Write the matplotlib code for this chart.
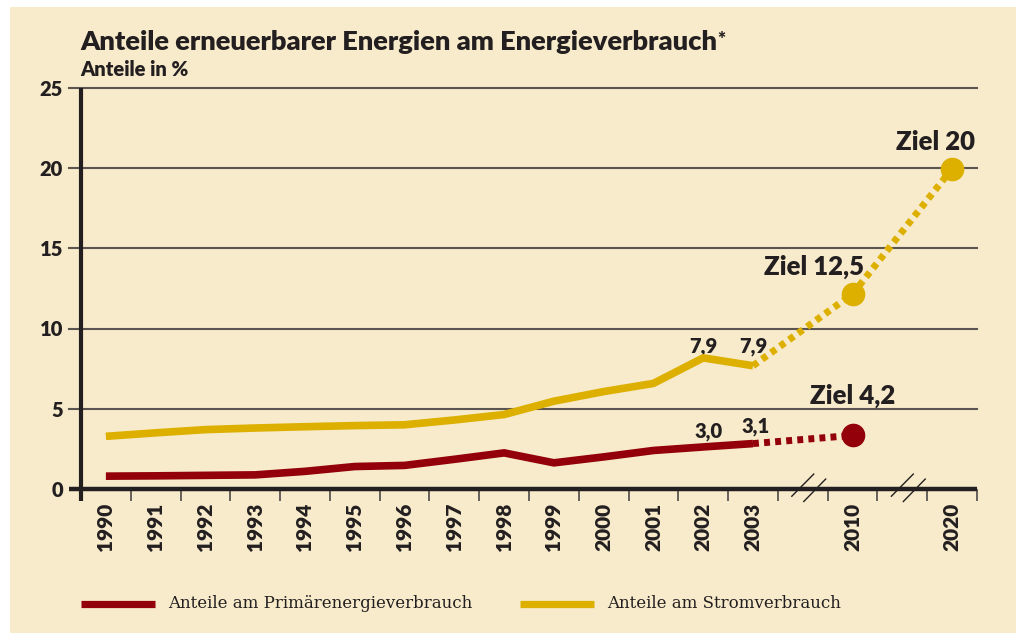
import matplotlib
matplotlib.use("agg")
import matplotlib.pyplot as plt
from matplotlib.lines import Line2D
from matplotlib.patches import Rectangle
import numpy as np

# Daten
years = ['1990', '1991', '1992', '1993', '1994', '1995', '1996', '1997',
         '1998', '1999', '2000', '2001', '2002', '2003', '', '2010', '', '2020']
primaer = [0.80, 0.82, 0.85, 0.88, 1.10, 1.40, 1.47, 1.85, 2.25, 1.63, 2.00, 2.40, 2.62, 2.83]
strom = [3.28, 3.50, 3.70, 3.80, 3.88, 3.95, 4.00, 4.30, 4.64, 5.47, 6.07, 6.58, 8.17, 7.68]
primaer_ziel_jahre = ['2003', '2010']
primaer_ziel = [2.83, 3.34]
strom_ziel_jahre = ['2003', '2010', '2020']
strom_ziel = [7.68, 12.15, 19.96]
break_slots = [14, 16]
yticks = [0, 5, 10, 15, 20, 25]

BG = '#F7EBCB'
RED = '#93000A'
YEL = '#DDB000'
INK = '#231F20'
GRID = '#5A5550'
FONT = 'Lato'
WT = 'heavy'

W, H = 1028, 633
fig = plt.figure(figsize=(W / 100, H / 100), dpi=100, facecolor='white')
fig.patches.append(Rectangle((10 / W, 0), 1006 / W, 626 / H, transform=fig.transFigure,
                             facecolor=BG, edgecolor='none', zorder=-10))

ax = fig.add_axes([81 / W, (H - 489) / H, 896 / W, 25 * 16.05 / H])
ax.set_facecolor('none')
ax.set_xlim(0, len(years))
ax.set_ylim(0, 25)
for s in ax.spines.values():
    s.set_visible(False)

pos = {y: i + 0.5 for i, y in enumerate(years) if y}
x_hist = [pos[y] for y in years[:14]]

# Gitterlinien
for v in yticks[1:]:
    ax.plot([-0.24, len(years)], [v, v], color=GRID, lw=1.5, clip_on=False, zorder=1)
# Achsen
ax.plot([-0.24, len(years)], [0, 0], color=INK, lw=3.2, clip_on=False, zorder=5,
        solid_capstyle='butt')
ax.plot([0, 0], [-0.75, 25], color=INK, lw=3.0, clip_on=False, zorder=5,
        solid_capstyle='butt')

# Achsenbeschriftung
ax.set_yticks(yticks)
ax.set_yticklabels([str(v) for v in yticks], fontfamily=FONT, fontweight=WT,
                   fontsize=14.5, color=INK)
ax.tick_params(axis='y', length=0, pad=13)
ax.set_xticks(np.arange(1, len(years) + 1))
ax.set_xticklabels([])
ax.tick_params(axis='x', which='major', length=8.6, width=1.3, color=GRID, direction='out')
ax.set_xticks([pos[y] for y in pos], minor=True)
ax.set_xticklabels(list(pos.keys()), minor=True, rotation=90, fontfamily=FONT,
                   fontweight=WT, fontsize=15, color=INK)
ax.tick_params(axis='x', which='minor', length=0, pad=10)

# Bruchzeichen
for b in break_slots:
    for dx in (0.0, 0.24):
        ax.plot([b + 0.28 + dx, b + 0.72 + dx], [-0.45 - 0.33 * dx / 0.24, 0.93 - 0.31 * dx / 0.24],
                color=INK, lw=1.0, clip_on=False, zorder=6)

# Linien
ax.plot(x_hist, primaer, color=RED, lw=5.5, solid_capstyle='butt', solid_joinstyle='miter', zorder=4)
ax.plot(x_hist, strom, color=YEL, lw=5.5, solid_capstyle='butt', solid_joinstyle='miter', zorder=4)
ax.plot([pos[y] for y in primaer_ziel_jahre], primaer_ziel, color=RED, lw=5.0,
        dashes=(0.85, 0.75), zorder=4)
ax.plot([pos[y] for y in strom_ziel_jahre], strom_ziel, color=YEL, lw=5.0,
        dashes=(0.85, 0.75), zorder=4)
ax.plot([pos[primaer_ziel_jahre[-1]]], [primaer_ziel[-1]], 'o', color=RED, ms=16, zorder=6)
ax.plot([pos[y] for y in strom_ziel_jahre[1:]], strom_ziel[1:], 'o', color=YEL, ms=16, zorder=6)

# Werte
lab = dict(fontfamily=FONT, fontweight=WT, color=INK, textcoords='offset points',
           va='baseline', annotation_clip=False)
ax.annotate('7,9', (pos['2002'], strom[12]), xytext=(0, 3.6), ha='center', fontsize=14.5, **lab)
ax.annotate('7,9', (pos['2003'], strom[13]), xytext=(0, 9.4), ha='center', fontsize=14.5, **lab)
ax.annotate('3,0', (pos['2002'], primaer[12]), xytext=(3.6, 7), ha='center', fontsize=14.5, **lab)
ax.annotate('3,1', (pos['2003'], primaer[13]), xytext=(2, 8), ha='center', fontsize=14.5, **lab)
ax.annotate('Ziel 4,2', (pos['2010'], primaer_ziel[-1]), xytext=(0, 23), ha='center',
            fontsize=18.5, **lab)
ax.annotate('Ziel 12,5', (pos['2010'], strom_ziel[1]), xytext=(-28, 13.7), ha='center',
            fontsize=18.5, **lab)
ax.annotate('Ziel 20', (pos['2020'], strom_ziel[2]), xytext=(16.5, 13.5), ha='right',
            fontsize=18.5, **lab)

# Titel
t = fig.text(80 / W, 1 - 50.5 / H, 'Anteile erneuerbarer Energien am Energieverbrauch',
             fontfamily=FONT, fontweight=WT, fontsize=19.6, color=INK, va='baseline')
fig.text(80 / W, 1 - 76 / H, 'Anteile in %', fontfamily=FONT, fontweight=WT,
         fontsize=14.5, color=INK, va='baseline')
ax.annotate('*', xy=(1, 1), xycoords=t, xytext=(0.5, 0), textcoords='offset points',
            ha='left', va='top', fontsize=14, fontweight=WT, color=INK, fontfamily=FONT,
            annotation_clip=False)

# Legende
for x0, col, txt in [(81, RED, 'Anteile am Primärenergieverbrauch'),
                     (520, YEL, 'Anteile am Stromverbrauch')]:
    fig.add_artist(Line2D([x0 / W, (x0 + 74) / W], [1 - 604 / H] * 2, color=col, lw=5.2,
                          solid_capstyle='butt', transform=fig.transFigure))
    fig.text((x0 + 87) / W, 1 - 604 / H, txt, fontfamily='DejaVu Serif', fontsize=12,
             color=INK, va='center')

fig.savefig('out.png', dpi=100, facecolor=fig.get_facecolor())
